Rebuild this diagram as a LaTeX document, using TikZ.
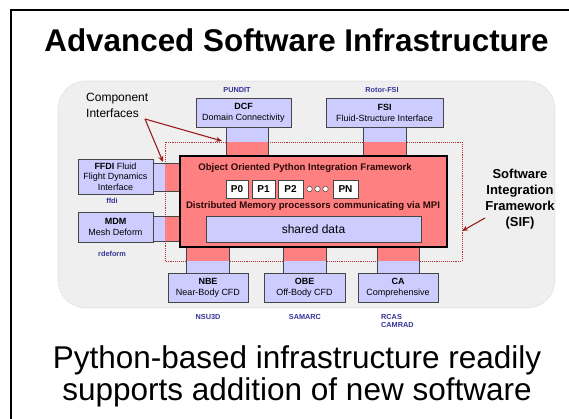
\documentclass[tikz,border=0pt]{standalone}
\usepackage{fontspec}
\setmainfont{Liberation Sans}
\usetikzlibrary{arrows.meta}
\definecolor{redfill}{HTML}{FF8080}
\definecolor{lavfill}{HTML}{CCCCFF}
\definecolor{boxline}{HTML}{454545}
\definecolor{grayarea}{HTML}{EFEFEF}
\definecolor{grayedge}{HTML}{C8C8C8}
\definecolor{dotred}{HTML}{B03030}
\definecolor{arrred}{HTML}{9B1C1C}
\definecolor{codeblue}{HTML}{333399}
\definecolor{darktxt}{HTML}{2A0A0A}
\tikzset{
  compbox/.style={draw=boxline, fill=lavfill, line width=0.6pt, inner sep=0pt, align=center, font=\fontsize{9}{11}\selectfont},
  procbox/.style={draw=boxline, fill=white, line width=0.6pt, inner sep=0pt, minimum height=18pt, font=\fontsize{10}{12}\selectfont\bfseries},
  codelabel/.style={text=codeblue, font=\fontsize{7.3}{8.5}\selectfont\bfseries, inner sep=0pt},
  lavpart/.style={fill=lavfill},
  redpart/.style={fill=redfill},
  sideline/.style={draw=boxline, line width=0.6pt},
  callout/.style={draw=arrred, line width=1.1pt, -{Stealth[length=6pt,width=5pt]}}
}
\begin{document}
\begin{tikzpicture}[x=1pt,y=-1pt]
\useasboundingbox (0,0) rectangle (569,419);
% outer frame
\draw[line width=1.4pt] (11,419) -- (11,10) -- (569,10);
% title
\node[font=\fontsize{31.4}{34}\selectfont\bfseries] (title) at (296.5,40) {Advanced Software Infrastructure};
% gray area
\draw[fill=grayarea, draw=grayedge, densely dotted, line width=0.6pt, rounded corners=28pt] (58,81) rectangle (555,308);
% SIF dotted boundary
\draw[dotred, densely dotted, line width=0.9pt] (165,142) rectangle (462,261);
% interface pieces
% DCF
\fill[lavpart] (226,127) rectangle (268,142);
\fill[redpart] (226,142) rectangle (268,156);
\draw[sideline] (226,127) -- (226,156) (268,127) -- (268,156);
% FSI
\fill[lavpart] (363,127) rectangle (406,142);
\fill[redpart] (363,142) rectangle (406,156);
\draw[sideline] (363,127) -- (363,156) (406,127) -- (406,156);
% FFDI
\fill[lavpart] (153,163) rectangle (165,191);
\fill[redpart] (165,163) rectangle (180,191);
\draw[sideline] (153,163) -- (180,163) (153,191) -- (180,191);
% MDM
\fill[lavpart] (153,216) rectangle (165,241);
\fill[redpart] (165,216) rectangle (180,241);
\draw[sideline] (153,216) -- (180,216) (153,241) -- (180,241);
% NBE
\fill[redpart] (186,247) rectangle (229,261);
\fill[lavpart] (186,261) rectangle (229,273);
\draw[sideline] (186,247) -- (186,273) (229,247) -- (229,273);
% OBE
\fill[redpart] (283,247) rectangle (326,261);
\fill[lavpart] (283,261) rectangle (326,273);
\draw[sideline] (283,247) -- (283,273) (326,247) -- (326,273);
% CA
\fill[redpart] (377,247) rectangle (419,261);
\fill[lavpart] (377,261) rectangle (419,273);
\draw[sideline] (377,247) -- (377,273) (419,247) -- (419,273);
% main framework box
\node[draw=black, fill=redfill, line width=2.2pt, minimum width=267pt, minimum height=91pt, inner sep=0pt] (main) at (313.5,201.5) {};
\node[text=darktxt, font=\fontsize{9.6}{11}\selectfont\bfseries, inner sep=0pt] (ootitle) at (305,168) {Object Oriented Python Integration Framework};
\node[procbox, minimum width=22pt] (p0) at (237,189) {P0};
\node[procbox, minimum width=23pt] (p1) at (263.5,189) {P1};
\node[procbox, minimum width=25pt] (p2) at (290.5,189) {P2};
\node[procbox, minimum width=25pt] (pn) at (345.5,189) {PN};
\foreach \cx/\nm in {309.5/c1,317.5/c2,325.5/c3}
  \node[draw=boxline, fill=white, circle, minimum size=5.5pt, inner sep=0pt, line width=0.5pt] (\nm) at (\cx,189) {};
\node[text=darktxt, font=\fontsize{9.6}{11}\selectfont\bfseries, inner sep=0pt] (mpi) at (313,206) {Distributed Memory processors communicating via MPI};
\node[compbox, minimum width=215pt, minimum height=26pt, font=\fontsize{12}{14}\selectfont] (shared) at (313.5,229) {shared data};
% component boxes
\node[compbox, minimum width=95pt, minimum height=29pt] (dcf) at (243.5,112.5) {\textbf{DCF}\\Domain Connectivity};
\node[compbox, minimum width=117pt, minimum height=29pt] (fsi) at (384.5,112.5) {\textbf{FSI}\\Fluid-Structure Interface};
\node[compbox, minimum width=75pt, minimum height=35pt, font=\fontsize{9}{10.5}\selectfont] (ffdi) at (115.5,176.5) {\textbf{FFDI} Fluid\\Flight Dynamics\\Interface};
\node[compbox, minimum width=75pt, minimum height=30pt] (mdm) at (115.5,227) {\textbf{MDM}\\Mesh Deform};
\node[compbox, minimum width=80pt, minimum height=29pt] (nbe) at (208,287.5) {\textbf{NBE}\\Near-Body CFD};
\node[compbox, minimum width=81pt, minimum height=29pt] (obe) at (304.5,287.5) {\textbf{OBE}\\Off-Body CFD};
\node[compbox, minimum width=80pt, minimum height=29pt] (ca) at (398,287.5) {\textbf{CA}\\Comprehensive};
% code labels
\node[codelabel] (pundit) at (237,90) {PUNDIT};
\node[codelabel] (rotorfsi) at (382,90) {Rotor-FSI};
\node[codelabel] (ffdilab) at (112,201) {ffdi};
\node[codelabel] (rdeform) at (112,254) {rdeform};
\node[codelabel] (nsu3d) at (208,317) {NSU3D};
\node[codelabel] (samarc) at (305,317) {SAMARC};
\node[codelabel, anchor=west, align=left, font=\fontsize{7.3}{8.5}\selectfont\bfseries] (rcas) at (381,321) {RCAS\\CAMRAD};
% callouts
\node[anchor=west, align=left, font=\fontsize{12}{16}\selectfont, inner sep=0pt] (compint) at (86,105) {Component\\Interfaces};
\coordinate (ciarr) at (145,119);
\coordinate (dcfif) at (222,141);
\coordinate (ffdiif) at (163,162);
\draw[callout] (ciarr) -- (dcfif);
\draw[callout] (ciarr) -- (ffdiif);
\node[align=center, font=\fontsize{13}{16}\selectfont\bfseries, inner sep=0pt] (sif) at (520,199) {Software\\Integration\\Framework\\(SIF)};
\coordinate (sifarr) at (485,218);
\coordinate (sifedge) at (462,231);
\draw[callout] (sifarr) -- (sifedge);
% bottom text
\node[font=\fontsize{31.5}{32}\selectfont] (sub1) at (297,360) {Python-based infrastructure readily};
\node[font=\fontsize{31.5}{32}\selectfont] (sub2) at (297,392) {supports addition of new software};
\end{tikzpicture}
\end{document}
